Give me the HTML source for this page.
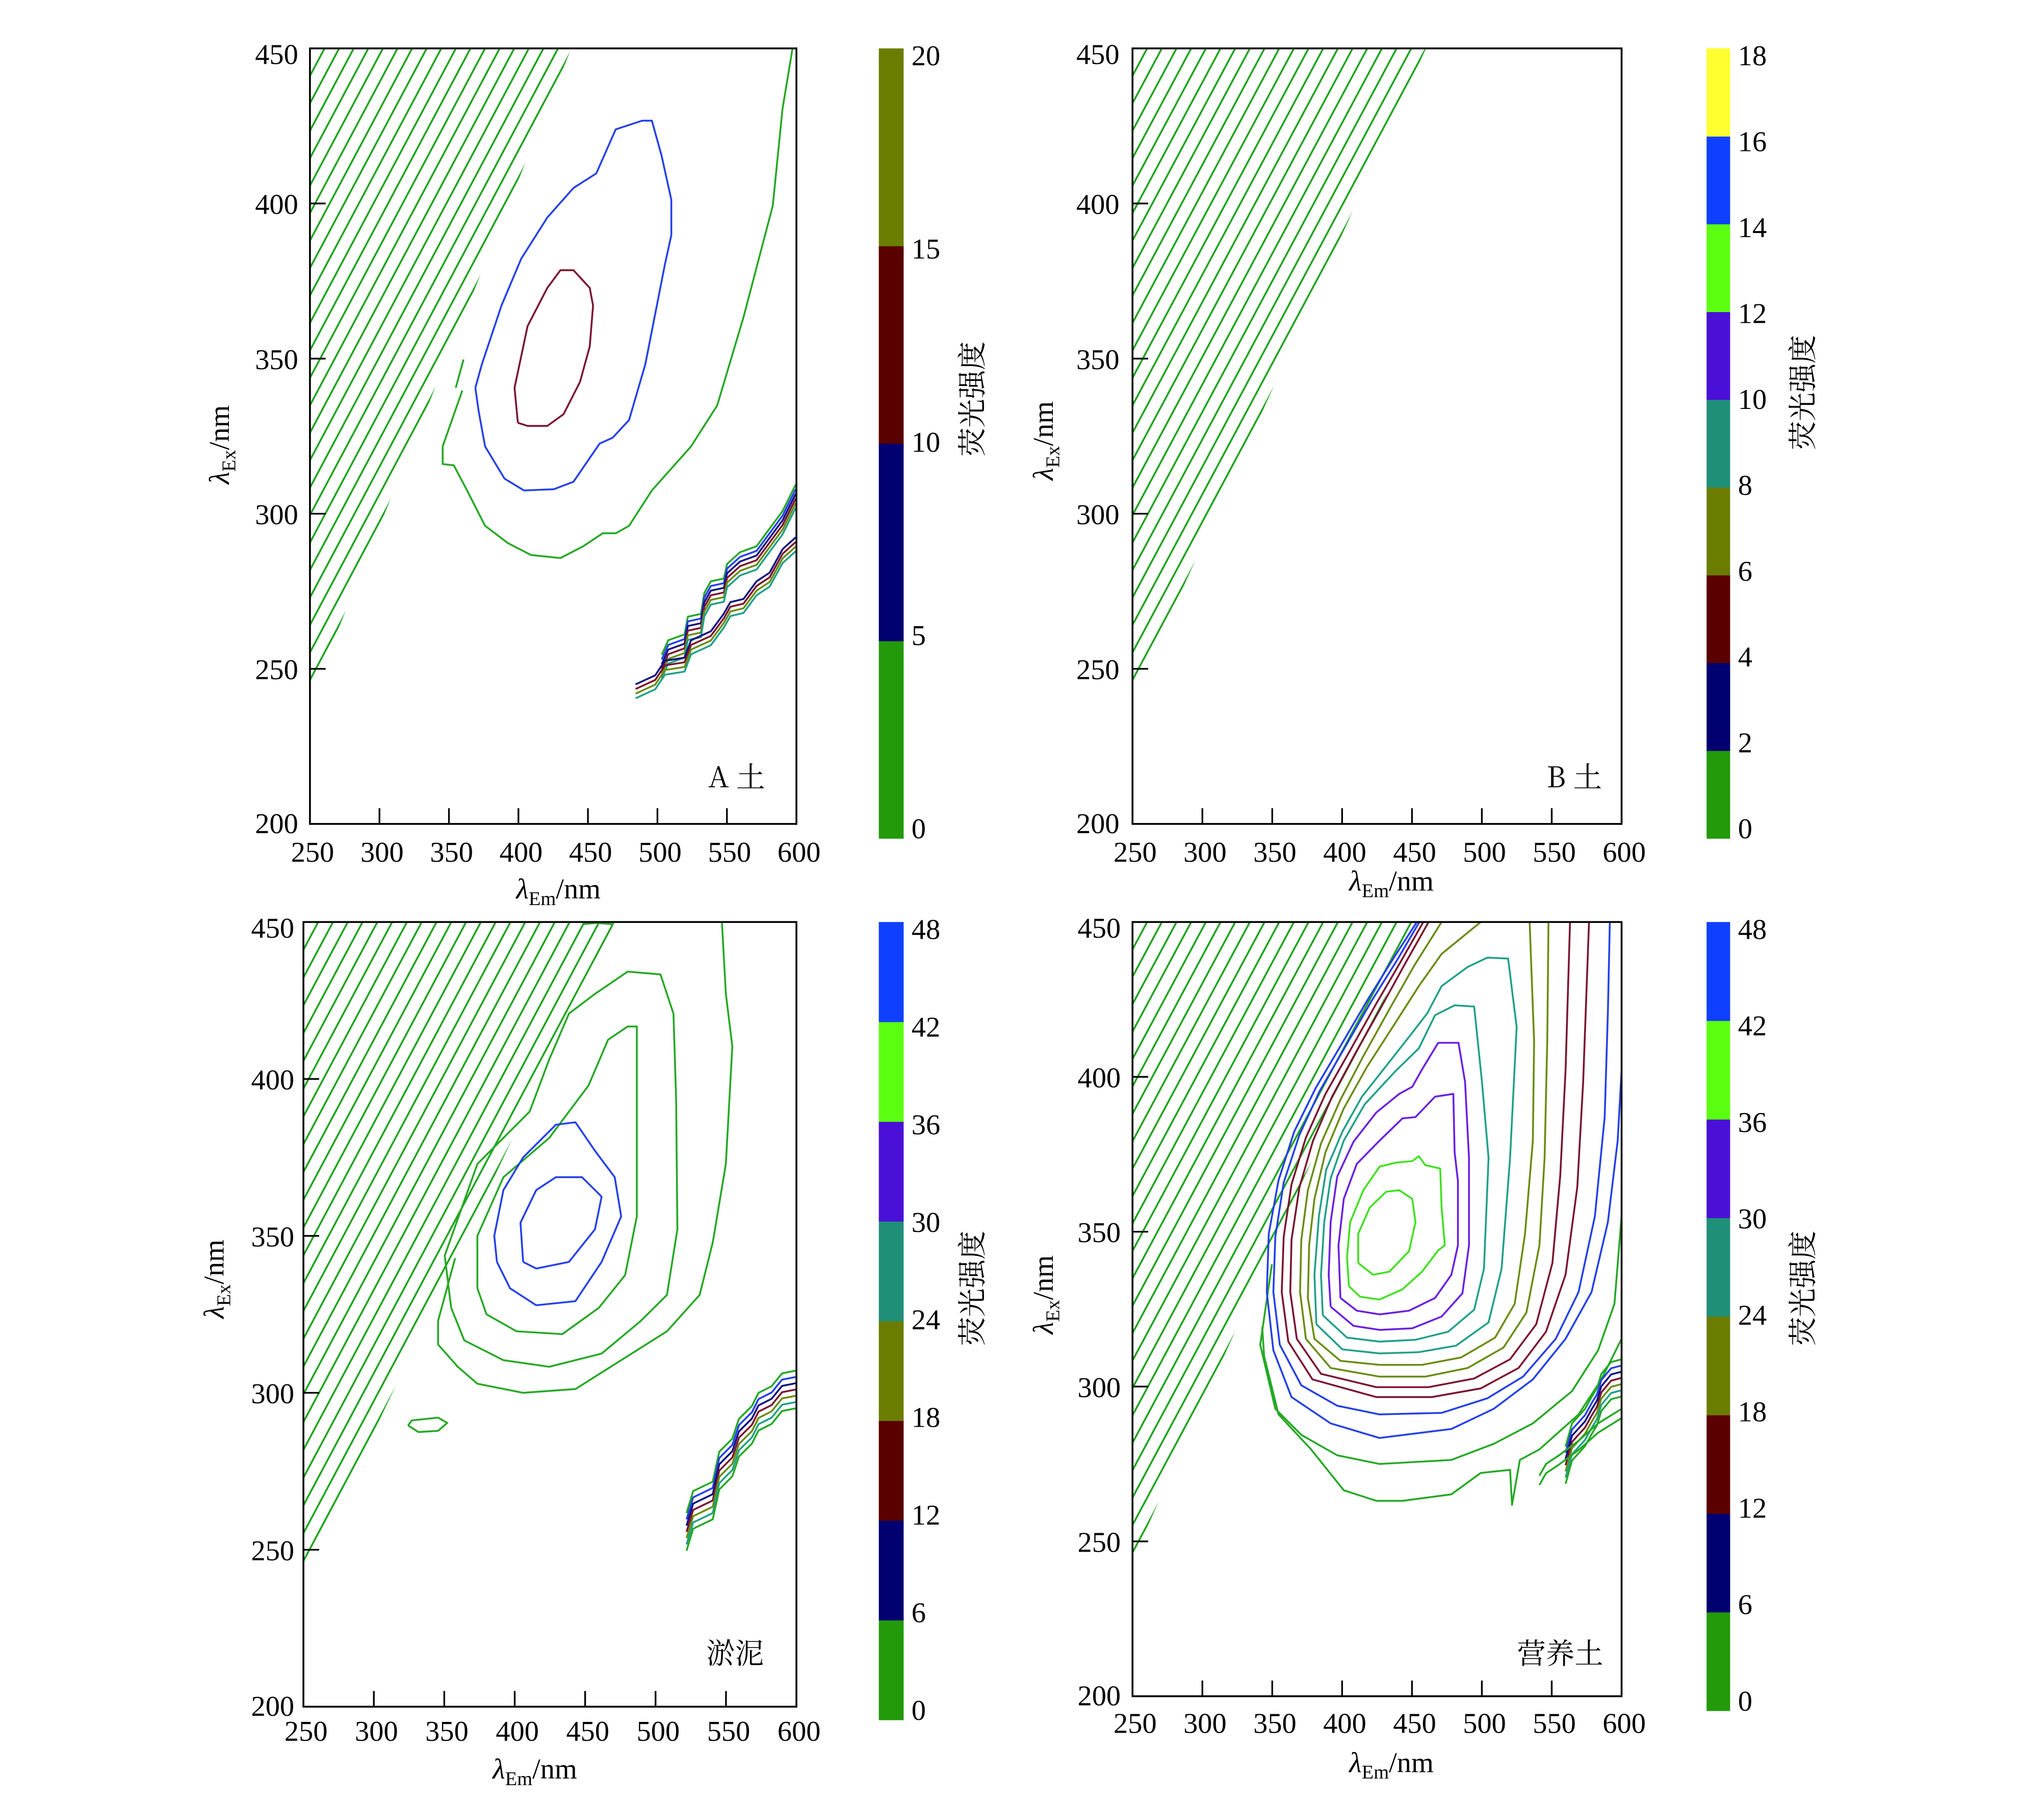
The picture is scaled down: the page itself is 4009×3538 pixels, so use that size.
<!DOCTYPE html>
<html><head><meta charset="utf-8"><style>
html,body{margin:0;padding:0;background:#fff;}
svg{display:block;}
text{font-family:"Liberation Serif","Noto Serif CJK SC",serif;fill:#000;}
.cjk{font-family:"Noto Serif CJK SC","Liberation Serif",serif;}
</style></head><body>
<svg id="chart" xmlns="http://www.w3.org/2000/svg" width="4009" height="3538" viewBox="0 0 1563 1379.4">
<rect x="0" y="0" width="1563" height="1379.4" fill="#fff"/>
</svg>
<script>
// ---------- data ----------
const xTicks=[250,300,350,400,450,500,550,600];
const yTicks=[200,250,300,350,400,450];
const cbTicksA=[0,5,10,15,20];
const cbTicksB=[0,2,4,6,8,10,12,14,16,18];
const cbTicksC=[0,6,12,18,24,30,36,42,48];
const cbTicksD=[0,6,12,18,24,30,36,42,48];

const aGreen=[[359.6,339.7],[345.5,321.7],[345.5,316],[353.5,315.6],[362,308.4],[376,296.1],[392.5,290.5],[409,286.7],[430.2,285.7],[446.6,289.5],[460.7,293.7],[470.1,293.7],[479.6,296.1],[496,307.5],[524.2,321.7],[543,334.9],[561.9,363.3],[583,399.3],[590,430.5],[597.2,450]];
const aGreenStub=[[360.5,349.7],[354.9,340.6]];
const aBlue=[[369,340.6],[371.4,333],[376,321.7],[390,311.3],[404,307.5],[425.5,307.9],[439.6,310.3],[458.4,322.6],[467.8,324.5],[479.6,330.2],[491.3,348.2],[505.4,380.4],[510,389.8],[510,401.2],[503,415.4],[496,426.7],[489,426.7],[470,423.9],[456,409.7],[439.6,405],[420.8,395.5],[402,382.2],[387.8,367.1],[373.7,348.2],[369,340.6]];
const aMaroon=[[399.6,329.3],[406.6,328.3],[420.8,328.3],[432.5,332.1],[444.3,342.5],[451.3,353.9],[453.7,367.1],[451.3,372.8],[439.6,378.5],[430.2,378.5],[420.8,372.8],[406.6,360.5],[397.2,340.6],[399.6,329.3]];
const aBand1=[[503.1,254.5],[507.8,259.2],[519.5,261.1],[521.9,266.8],[531.3,267.7],[533.7,274.4],[538.4,278.2],[547.8,279.1],[550.1,283.8],[559.5,287.6],[571.3,289.5],[580.7,295.2],[590.1,300.9],[599.5,309.4]];
const aBand1Off=[0,-1.5,-3,-4.5,-6,-7.5];
const aBand2=[[484.3,245],[498.4,247.9],[505.4,252.6],[519.5,253.6],[524.2,259.2],[538.4,262.1],[547.8,267.8],[552.5,271.5],[561.9,272.5],[571.3,278.2],[580.7,281],[590.1,288.6],[599.5,292.4]];
const aBand2Off=[0,-1.5,-3,-4.5];

const cC1=[[406,341.7],[415.3,339.6],[438.5,341.7],[457,352.1],[461.7,362.5],[447.8,368.7],[429.2,368.7],[415.3,364.6],[404.1,354.2],[406,341.7]];
const cC2=[[387.4,341.7],[396.7,333.3],[415.3,327.9],[443.1,329.2],[461.7,341.7],[475.6,356.2],[471,368.7],[457,377.1],[443.1,386.2],[429.2,385.4],[406,375],[392,364.6],[385.5,350],[387.4,341.7]];
const cC3=[[373.5,333.3],[380,325],[401.3,319.6],[433.8,318.7],[459.8,327.1],[478.4,337.5],[486.7,356.2],[486.7,381.2],[486.7,416.7],[480.2,416.7],[466.3,412.5],[452.4,397.9],[424.5,381.2],[392,368.7],[373.5,350],[373.5,333.3]];
const cC4=[[354.9,327.1],[364.2,316.7],[392,310.4],[424.5,308.3],[461.7,312.5],[489.5,322.9],[508.1,331.2],[515.5,352.1],[514.6,393.7],[512.7,420.8],[503.5,433.3],[480.2,434.2],[457,427.1],[438.5,420.8],[424.5,406.2],[410.6,389.6],[373.5,372.9],[350.3,343.7],[354.9,327.1]];
const cC5=[[357.7,342.9],[345.6,322.9],[345.6,315.4],[359.6,308.3],[373.5,302.9],[406,300],[443.1,301.2],[475.6,310.4],[508.1,319.6],[531.3,331.2],[540.6,347.9],[549.9,372.9],[554.5,410.4],[549.9,427.1],[547.1,450]];
const cIsland=[[324.3,289.6],[331.7,287.5],[345.6,287.9],[352.1,290.4],[345.6,292.1],[327,291.2],[324.3,289.6]];
const cTop=[[448,449.3],[458,449.7],[470,449.3]];
const cBand=[[522,261.7],[526.7,268.7],[540.6,271.7],[545.2,281.2],[554.5,285.4],[559.2,291.7],[568.4,295.8],[573.1,300],[582.4,302.1],[589.8,306.2],[600,307.1]];
const cBandOff=[0,-2,-4,-6,-8,-10,-12];

const dL1=[[411.5,339.9],[422.2,336.1],[433.8,337.1],[447.9,343.7],[452.5,353.1],[450.2,360.6],[440.9,363.4],[431.5,362.9],[419.8,357.8],[411.5,349.3],[411.5,339.9]];
const dL2=[[404.9,332.4],[412.9,329],[426.8,328.1],[443.2,331.4],[457.2,337.1],[468.8,344],[473.5,345.6],[471.2,357.8],[470.2,370.4],[459.5,371.5],[454.9,374.4],[450.2,372.8],[438.5,372.3],[426.8,371],[415.2,363.4],[405.8,353.1],[403.5,341.8],[404.9,332.4]];
const dP1=[[398.8,328.6],[410.5,324.5],[426.8,323.3],[447.9,324.5],[466.5,328.6],[478.2,336.1],[482.9,345.6],[482.9,366.3],[480.5,375.7],[479.6,394.5],[466.5,393.6],[452.5,387],[443.2,386.6],[426.8,379.4],[410.5,371.9],[401.2,360.6],[397.4,345.6],[398.8,328.6]];
const dP2=[[391.8,325.8],[408.2,319.6],[426.8,318.3],[450.2,318.8],[471.2,322.6],[486.1,330.1],[490.8,345.6],[490.8,373.8],[488,398.3],[483.3,411],[468.8,411],[457.2,402.4],[450.2,396.8],[440.9,394.5],[424.5,388.5],[408.2,379.1],[396.5,367.8],[391.8,353.1],[390.4,336.1],[391.8,325.8]];
const dT1=[[386.2,323],[403.5,315.8],[426.8,314.5],[452.5,315.1],[475.9,317.7],[494.5,324.8],[501.5,338],[504.8,373.8],[500.1,398.3],[494.5,422.7],[480.5,423.1],[466.5,419.9],[454.9,409.2],[438.5,402],[416.1,391.1],[401.2,379.4],[391.8,367.2],[387.2,353.1],[384.9,336.1],[386.2,323]];
const dT2=[[381.6,320.1],[400.2,312],[426.8,310.7],[454.9,311.1],[481.5,313.2],[504.8,320.7],[514.1,338],[520.2,373.8],[524.9,416.1],[518.8,438.2],[503.9,438.5],[489.9,435.5],[471.2,429.3],[460.9,420.5],[447.9,412.9],[432.9,404.3],[414.2,393.6],[400.2,382.3],[388.6,370],[383.4,355],[380.2,336.1],[381.6,320.1]];
const dO1=[[499.2,450],[471.2,439.7],[454.9,429.3],[436.2,416.1],[417.5,403],[401.2,389.8],[388.1,375.7],[380.2,360.6],[376.4,345.6],[375.5,328.6],[380.2,315.4],[398.8,308.3],[426.8,307],[457.2,307],[485.2,309.4],[509.5,315.8],[523.5,326.7],[530.9,349.3],[536.5,379.4],[537.4,411.4],[534.2,450]];
const dO2=[[471.2,450],[451.6,435.9],[433.8,421.8],[415.2,406.7],[398.8,392.6],[384.9,378.5],[375.5,363.4],[370.8,347.4],[369.9,330.5],[374.1,315.4],[391.8,306],[426.8,303.2],[459.5,303.2],[489.9,306],[515.5,312.6],[531.9,323.9],[541.2,345.6],[544.9,373.8],[546.8,411.4],[547.7,450]];
const dM1=[[461.9,450],[445.5,436.9],[428.2,422.7],[409.6,407.7],[392.8,393.6],[379.2,379.4],[369.5,364.4],[363.8,347.4],[362.9,330.5],[367.6,315.4],[384.9,304.1],[424.5,299.8],[461.9,299.8],[494.5,302.6],[520.2,308.8],[538.9,320.1],[550.5,339.9],[556.1,368.1],[559.9,402],[563.1,450]];
const dM2=[[458.1,450],[442.2,437.4],[424.5,423.7],[405.8,408.6],[388.1,394.5],[374.1,380.4],[363.8,365.3],[358.2,348.4],[356.8,330.5],[361.5,314.5],[378.8,302.3],[424.5,296.6],[464.2,296.6],[499.2,299.4],[526.3,306],[545.9,317.7],[559.9,336.1],[568.3,364.4],[572.5,398.3],[576.7,450]];
const dB1=[[455.3,450],[439.5,437.8],[421.2,424.6],[402.1,409.6],[383.9,395.4],[369.5,381.3],[358.2,365.9],[352.2,348.4],[350.8,330.5],[355.4,313.5],[370.8,300.4],[396.5,293.8],[426.8,291],[471.2,291.5],[503.9,296.2],[529.5,303.2],[552.9,315.4],[569.2,330.5],[580.9,355],[587.9,387],[590.2,420.9],[591.6,450]];
const dB2=[[453.5,450],[436.6,438.2],[418.4,425],[399.3,410.3],[381.1,396.4],[365.7,382.3],[354.5,366.6],[347.5,349.3],[346.1,330.5],[350.8,311.7],[363.8,296.6],[391.8,288.1],[426.8,283.4],[478.2,286.3],[508.5,292.8],[536.5,302.3],[559.9,315.4],[578.5,330.5],[590.2,353.1],[597.2,379.4],[600,402]];
const dG1=[[349.8,339.5],[341.4,313.5],[352.2,292.8],[370.8,284.4],[396.5,277.8],[426.8,275],[478.2,276.3],[508.5,281.5],[536.5,288.1],[564.5,298.5],[583.2,311.7],[594.9,326.7],[600,355]];
const dG2=[[342.8,319.2],[344.2,309.8],[354.5,291],[377.8,279.7],[401.2,266.5],[424.5,263.1],[443.2,263.1],[478.2,265.2],[499.2,272.1],[520.2,273.1],[521.6,261.8],[527.2,276.3],[541.2,279.7],[569.2,291],[585.5,302.3],[600,315.4]];
const dBand=[[559.9,280.6],[564.5,288.1],[573.9,292.8],[578.5,296.6],[582.3,299.4],[585.5,304.1],[592.5,307.9],[600,308.8]];
const dBandOff=[0,-2,-4,-6,-8,-10,-12];
const dBand2=[[541.2,271.2],[545.9,275],[555.2,277.8],[569.2,282.5],[583.2,288.1],[600,292.8]];

// ---------- style / layout ----------
const LC={green:'#25a825',blue:'#2540e8',maroon:'#7a1430',olive:'#6a8c10',teal:'#20a088',purple:'#6a20e0',lime:'#40e020',navy:'#101080'};
const BC={green:'#229a0a',navy:'#000070',maroon:'#5a0000',olive:'#6b7d00',teal:'#1f8f78',purple:'#4a10d8',lime:'#5cff10',blue:'#1040ff',yellow:'#ffff30'};
const bandColors=['#25a825','#2540e8','#101080','#7a1430','#6a8c10','#20a088','#25a825'];
const panels=[
 {id:'a',x0:237,x1:609,y0:37,y1:630,cb:[672,691,37,641],ticks:cbTicksA,cols:['green','navy','maroon','olive'],hE0:240,hTop:438,label:'A 土',lx:585,ly:602,cbt:[742,305],yl:[175,340],xl:[427,687],ylab:228,xlab:659},
 {id:'b',x0:866,x1:1240,y0:37,y1:630,cb:[1305,1323,37,641],ticks:cbTicksB,cols:['green','navy','maroon','olive','teal','purple','lime','blue','yellow'],hE0:240,hTop:460,label:'B 土',lx:1225,ly:602,cbt:[1377,300],yl:[805,337],xl:[1064,681],ylab:856,xlab:659},
 {id:'c',x0:232,x1:609,y0:705,y1:1305,cb:[672,691,705,1315],ticks:cbTicksC,cols:['green','navy','maroon','olive','teal','purple','lime','blue'],hE0:240,hTop:471,label:'淤泥',lx:584,ly:1272,cbt:[742,985],yl:[171,978],xl:[409,1360],ylab:225,xlab:1331},
 {id:'d',x0:866,x1:1240,y0:705,y1:1297,cb:[1305,1323,705,1308],ticks:cbTicksD,cols:['green','navy','maroon','olive','teal','purple','lime','blue'],hE0:244,hTop:455,label:'营养土',lx:1226,ly:1272,cbt:[1377,985],yl:[805,990],xl:[1064,1355],ylab:857,xlab:1325}
];
const NS='http://www.w3.org/2000/svg';
const svg=document.getElementById('chart');
function mk(tag,attrs,parent){const e=document.createElementNS(NS,tag);for(const k in attrs)e.setAttribute(k,attrs[k]);(parent||svg).appendChild(e);return e;}
function sx(p,em){return p.x0+(em-250)/350*(p.x1-p.x0);}
function sy(p,ex){return p.y1-(ex-200)/250*(p.y1-p.y0);}
function pts(p,arr,off){return arr.map(d=>sx(p,d[0]).toFixed(2)+','+sy(p,d[1]+(off||0)).toFixed(2)).join(' ');}
function line(p,g,arr,color,name,off){
  const e=mk('polyline',{points:pts(p,arr,off),fill:'none',stroke:color,'stroke-width':1.4,'stroke-linejoin':'round'},g);
  
  
  return e;
}
const HATCH_SLOPE=0.843, HATCH_STEP=10.5;

panels.forEach(p=>{
  const g=mk('g',{});
  
  
  const defs=mk('defs',{},g);
  const cp=mk('clipPath',{id:'clip-'+p.id},defs);
  mk('rect',{x:p.x0,y:p.y0,width:p.x1-p.x0,height:p.y1-p.y0},cp);
  const hc=mk('clipPath',{id:'hclip-'+p.id},defs);
  mk('polygon',{points:[[250,450],[p.hTop,450],[250,p.hE0]].map(d=>sx(p,d[0])+','+sy(p,d[1])).join(' ')},hc);
  const hg=mk('g',{'clip-path':'url(#hclip-'+p.id+')'},g);
  
  
  const tMax=250+(450-p.hE0)/HATCH_SLOPE+HATCH_STEP;
  for(let t=250;t<=tMax;t+=HATCH_STEP){
    const h=mk('line',{x1:sx(p,t),y1:sy(p,450),x2:sx(p,t-250/HATCH_SLOPE),y2:sy(p,200),stroke:'#1fa41f','stroke-width':1.4},hg);
    
    
  }
  const cg=mk('g',{'clip-path':'url(#clip-'+p.id+')'},g);
  
  
  if(p.id==='a'){
    line(p,cg,aGreen,LC.green,'contour-green');
    line(p,cg,aGreenStub,LC.green,'contour-green-stub');
    line(p,cg,aBlue,LC.blue,'contour-blue');
    line(p,cg,aMaroon,LC.maroon,'contour-maroon');
    aBand1Off.forEach((o,i)=>line(p,cg,aBand1,bandColors[i],'scatter-band-upper',o));
    aBand2Off.forEach((o,i)=>line(p,cg,aBand2,bandColors[(i+2)%7],'scatter-band-lower',o));
  }
  if(p.id==='c'){
    line(p,cg,cC5,LC.green,'contour-green-outer');
    line(p,cg,cC4,LC.green,'contour-green-2');
    line(p,cg,cC3,LC.green,'contour-green-3');
    line(p,cg,cC2,LC.blue,'contour-blue-outer');
    line(p,cg,cC1,LC.blue,'contour-blue-inner');
    line(p,cg,cIsland,LC.green,'contour-island');
    line(p,cg,cTop,LC.green,'contour-top-fragment');
    cBandOff.forEach((o,i)=>line(p,cg,cBand,bandColors[i],'scatter-band',o));
  }
  if(p.id==='d'){
    [[dG2,'green'],[dG1,'green'],[dB2,'blue'],[dB1,'blue'],[dM2,'maroon'],[dM1,'maroon'],[dO2,'olive'],[dO1,'olive'],[dT2,'teal'],[dT1,'teal'],[dP2,'purple'],[dP1,'purple'],[dL2,'lime'],[dL1,'lime']].forEach(c=>line(p,cg,c[0],LC[c[1]],'contour-'+c[1]));
    dBandOff.forEach((o,i)=>line(p,cg,dBand,bandColors[i],'scatter-band',o));
    line(p,cg,dBand2,LC.green,'scatter-band-lower');
    line(p,cg,dBand2,LC.green,'scatter-band-lower',-3);
  }
  const fr=mk('rect',{x:p.x0,y:p.y0,width:p.x1-p.x0,height:p.y1-p.y0,fill:'none',stroke:'#000','stroke-width':1.4},g);
  
  
  xTicks.forEach(v=>{
    const x=sx(p,v);
    if(v>250&&v<600){const t=mk('line',{x1:x,y1:p.y1,x2:x,y2:p.y1-12,stroke:'#000','stroke-width':1.3},g);
      
      }
    const tl=mk('text',{x:x+2,y:p.xlab,'font-size':22,'text-anchor':'middle'},g);
    tl.textContent=v;
    
    
  });
  yTicks.forEach(v=>{
    const y=sy(p,v);
    if(v>200&&v<450){const t=mk('line',{x1:p.x0,y1:y,x2:p.x0+12,y2:y,stroke:'#000','stroke-width':1.3},g);
      
      }
    const tl=mk('text',{x:p.ylab,y:y+(v===450?12:(v===200?7:8)),'font-size':22,'text-anchor':'end'},g);
    tl.textContent=v;
    
    
  });
  const xt=mk('text',{x:p.xl[0],y:p.xl[1],'font-size':22,'text-anchor':'middle'},g);
  xt.innerHTML='<tspan font-style="italic">λ</tspan><tspan font-size="15" dy="5">Em</tspan><tspan dy="-5">/nm</tspan>';
  
  
  const yt=mk('text',{x:p.yl[0],y:p.yl[1],'font-size':22,'text-anchor':'middle',transform:'rotate(-90 '+p.yl[0]+' '+p.yl[1]+')'},g);
  yt.innerHTML='<tspan font-style="italic">λ</tspan><tspan font-size="15" dy="5">Ex</tspan><tspan dy="-5">/nm</tspan>';
  
  
  const lb=mk('text',{x:p.lx,y:p.ly,'font-size':22,'text-anchor':'end',class:'cjk'},g);
  lb.textContent=p.label;
  
  
  const [bx0,bx1,by0,by1]=p.cb;
  const n=p.ticks.length-1;
  const cbg=mk('g',{},g);
  
  
  for(let i=0;i<n;i++){
    const yTop=by1-(p.ticks[i+1]-p.ticks[0])/(p.ticks[n]-p.ticks[0])*(by1-by0);
    const yBot=by1-(p.ticks[i]-p.ticks[0])/(p.ticks[n]-p.ticks[0])*(by1-by0);
    const r=mk('rect',{x:bx0,y:yTop,width:bx1-bx0,height:yBot-yTop+0.3,fill:BC[p.cols[i]]},cbg);
    
    
  }
  p.ticks.forEach((v,i)=>{
    const yc=(by1-8)-(v-p.ticks[0])/(p.ticks[n]-p.ticks[0])*((by1-8)-(by0+5));
    const t=mk('text',{x:bx1+6,y:yc+8,'font-size':22},cbg);
    t.textContent=v;
    
    
  });
  const ct=mk('text',{x:p.cbt[0],y:p.cbt[1],'font-size':22,'text-anchor':'middle',class:'cjk',transform:'rotate(-90 '+p.cbt[0]+' '+p.cbt[1]+')','dominant-baseline':'central'},cbg);
  ct.textContent='荧光强度';
  
  
});
</script>
</body></html>
